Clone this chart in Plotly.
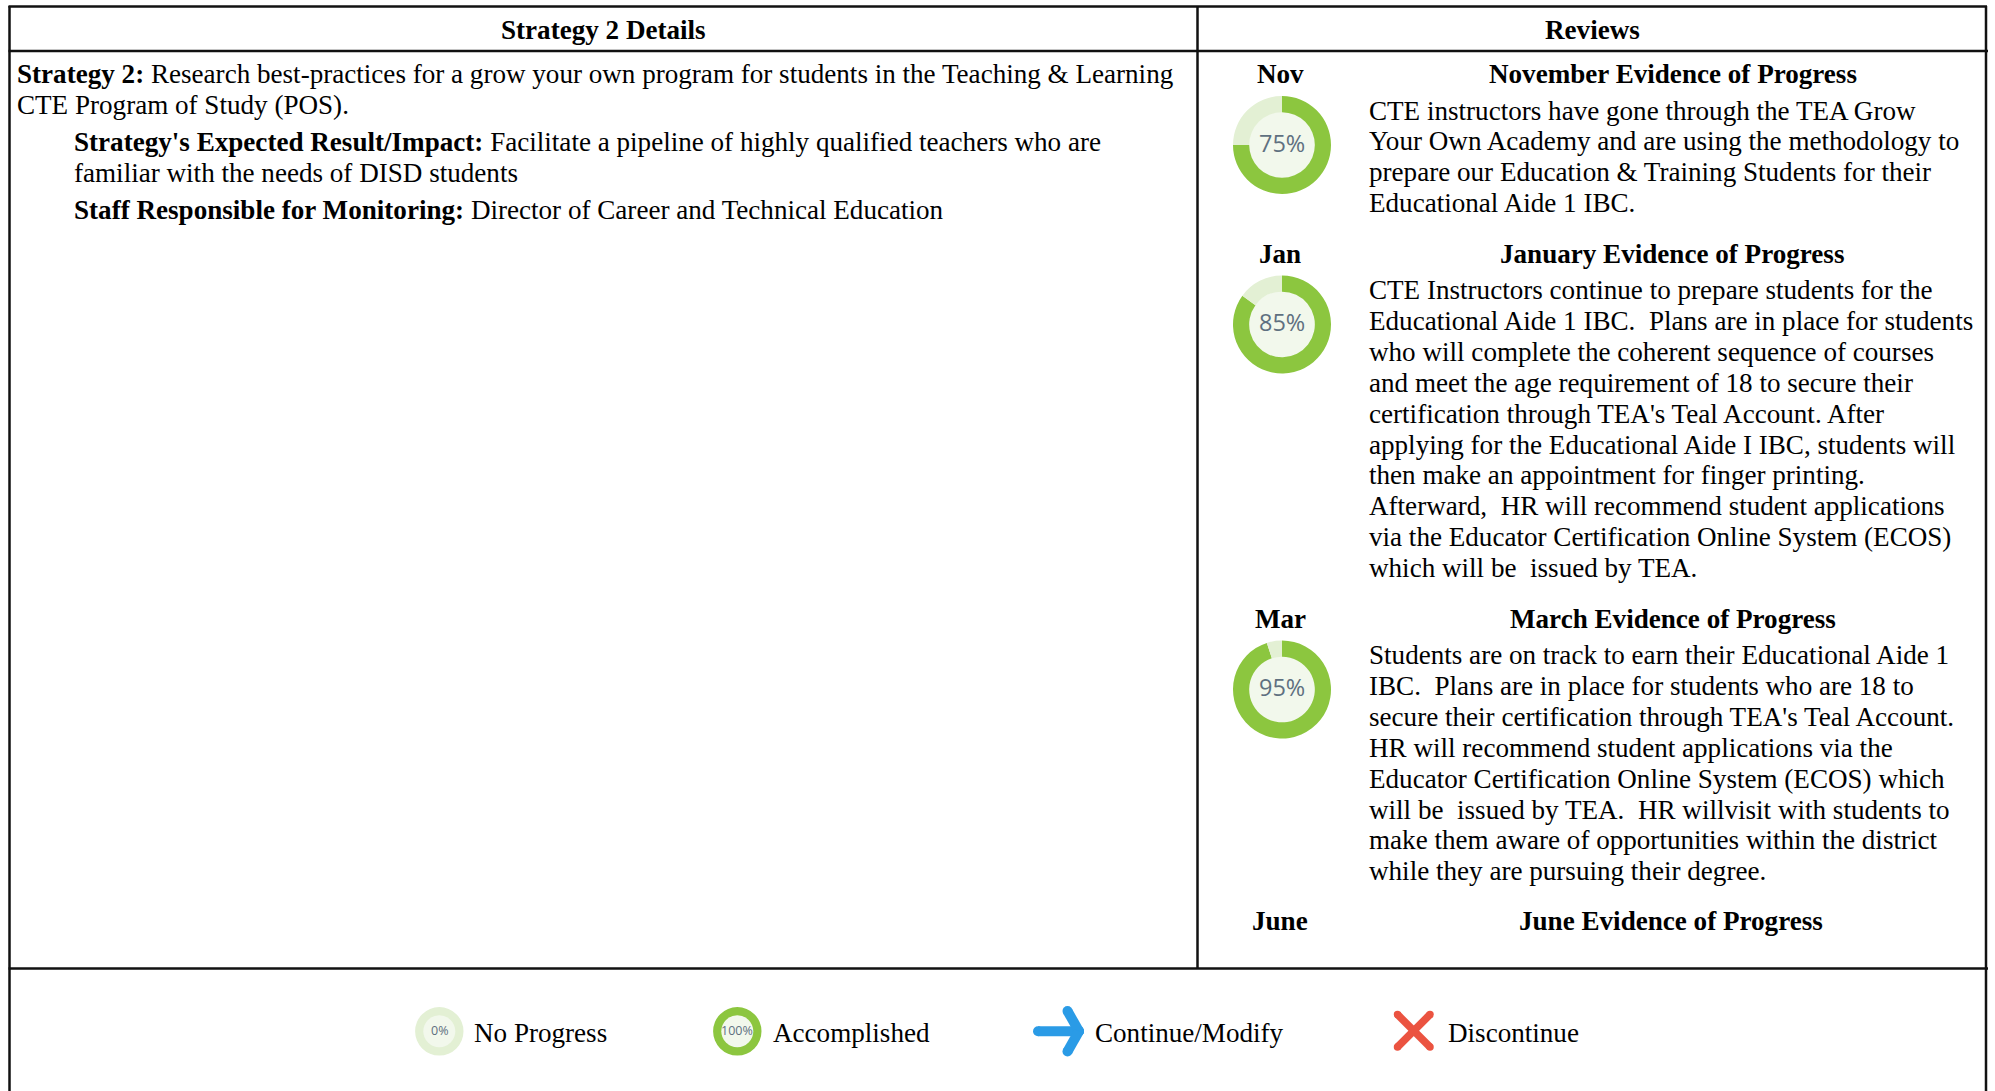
import plotly.graph_objects as go

W, H = 1995, 1091
FONT = "Liberation Serif"
FS = 27.1
GREEN, PALE, INNER = "#8CC63F", "#E3F0D4", "#F2F8EC"
LINE = "#111111"

headers = ["Strategy 2 Details", "Reviews"]
strategy_lines = [
    "<b>Strategy 2:</b> Research best-practices for a grow your own program for students in the Teaching &amp; Learning",
    "CTE Program of Study (POS).",
]
impact_lines = [
    "<b>Strategy's Expected Result/Impact:</b> Facilitate a pipeline of highly qualified teachers who are",
    "familiar with the needs of DISD students",
    "<b>Staff Responsible for Monitoring:</b> Director of Career and Technical Education",
]
months = ["Nov", "Jan", "Mar", "June"]
titles = ["November Evidence of Progress", "January Evidence of Progress",
          "March Evidence of Progress", "June Evidence of Progress"]
progress = [75, 85, 95]
evidence = [
    ["CTE instructors have gone through the TEA Grow",
     "Your Own Academy and are using the methodology to",
     "prepare our Education &amp; Training Students for their",
     "Educational Aide 1 IBC."],
    ["CTE Instructors continue to prepare students for the",
     "Educational Aide 1 IBC.\u00a0 Plans are in place for students",
     "who will complete the coherent sequence of courses",
     "and meet the age requirement of 18 to secure their",
     "certification through TEA's Teal Account. After",
     "applying for the Educational Aide I IBC, students will",
     "then make an appointment for finger printing.",
     "Afterward,\u00a0 HR will recommend student applications",
     "via the Educator Certification Online System (ECOS)",
     "which will be\u00a0 issued by TEA."],
    ["Students are on track to earn their Educational Aide 1",
     "IBC.\u00a0 Plans are in place for students who are 18 to",
     "secure their certification through TEA's Teal Account.",
     "HR will recommend student applications via the",
     "Educator Certification Online System (ECOS) which",
     "will be\u00a0 issued by TEA.\u00a0 HR willvisit with students to",
     "make them aware of opportunities within the district",
     "while they are pursuing their degree."],
]
legend_labels = ["No Progress", "Accomplished", "Continue/Modify", "Discontinue"]
legend_values = [0, 100]

fig = go.Figure()
shapes, ann = [], []


def text(x, y, s, anchor="left", size=FS, color="#000000", font=FONT):
    ann.append(dict(x=x, y=y, text=s, xref="x", yref="y", xanchor=anchor, yanchor="middle",
                    showarrow=False, align=anchor, font=dict(family=font, size=size, color=color)))


def seg(x0, y0, x1, y1, color=LINE, w=2.5):
    shapes.append(dict(type="line", x0=x0, y0=y0, x1=x1, y1=y1, xref="x", yref="y",
                       line=dict(color=color, width=w), layer="above"))


def ellipse(cx, cy, rx, ry, color):
    shapes.append(dict(type="circle", x0=cx - rx, x1=cx + rx, y0=cy - ry, y1=cy + ry, xref="x", yref="y",
                       fillcolor=color, line=dict(width=0), layer="below"))


def capsule(x0, y0, x1, y1, color, w):
    seg(x0, y0, x1, y1, color, w)
    for cx, cy in ((x0, y0), (x1, y1)):
        ellipse(cx, cy, w / 2, w / 2, color)


# table rules
seg(8.5, 6.5, 1987, 6.5)
seg(8.5, 51, 1988, 51)
seg(8.5, 968.5, 1988, 968.5)
seg(9.5, 6, 9.5, H)
seg(1197.5, 6, 1197.5, 968)
seg(1986, 6, 1986, H)

# header
text(603, 30, f"<b>{headers[0]}</b>", "center")
text(1592, 30, f"<b>{headers[1]}</b>", "center")

# left column
text(14.5, 74.3, strategy_lines[0])
text(14.5, 105, strategy_lines[1])
for y, s in zip((142, 172.5, 209.5), impact_lines):
    text(71.8, y, s)

# review column
LH = 30.9
CX = 1282
R = 49
label_y = [74.3, 253.8, 618.8, 921.3]
title_x = [1673, 1672, 1673, 1671]
body_y = [110.5, 290, 655]
donut_y = [145, 324.5, 689.5]
for m, t, ly, tx in zip(months, titles, label_y, title_x):
    text(1280, ly, f"<b>{m}</b>", "center")
    text(tx, ly, f"<b>{t}</b>", "center")
for lines, y0 in zip(evidence, body_y):
    for i, s in enumerate(lines):
        text(1366.7, y0 + i * LH, s)
for v, cy in zip(progress, donut_y):
    ellipse(CX, cy, R * 0.68, R * 0.68, INNER)
    fig.add_trace(go.Pie(
        values=[v, 100 - v], sort=False, direction="clockwise", rotation=0, hole=0.67,
        marker=dict(colors=[GREEN, PALE], line=dict(width=0)), textinfo="none", hoverinfo="none",
        showlegend=False,
        domain=dict(x=[(CX - R) / W, (CX + R) / W], y=[1 - (cy + R) / H, 1 - (cy - R) / H]),
    ))
    text(CX, cy - 2.5, f"{v}%", "center", 23.5, "#5F7080", "Open Sans")

# legend
LY = 1031.3
for cx, v, ring in zip((439.3, 737.3), legend_values, (PALE, GREEN)):
    ellipse(cx, LY, 24.2, 24.2, ring)
    ellipse(cx, LY, 16, 16, INNER)
    text(cx, LY - 0.5, f"{v}%", "center", 12.5, "#5F7080", "Open Sans")
for x, s in zip((472, 770.5, 1093, 1446), legend_labels):
    text(x, 1033, s)

BLUE, RED = "#2A9BE6", "#EB5340"
capsule(1038, 1031.3, 1079, 1031.3, BLUE, 10)
capsule(1067.5, 1011, 1079, 1031.3, BLUE, 10)
capsule(1067.5, 1051.5, 1079, 1031.3, BLUE, 10)
capsule(1397.5, 1014.5, 1430, 1047, RED, 7.5)
capsule(1430, 1014.5, 1397.5, 1047, RED, 7.5)

fig.update_layout(
    width=W, height=H, margin=dict(l=0, r=0, t=0, b=0),
    paper_bgcolor="#ffffff", plot_bgcolor="#ffffff", showlegend=False,
    xaxis=dict(range=[0, W], visible=False, fixedrange=True),
    yaxis=dict(range=[H, 0], visible=False, fixedrange=True),
    shapes=shapes, annotations=ann,
)
fig.write_html("out.html", config={"displayModeBar": False},
               post_script="document.body.style.margin='0';document.documentElement.style.overflow='hidden';")
